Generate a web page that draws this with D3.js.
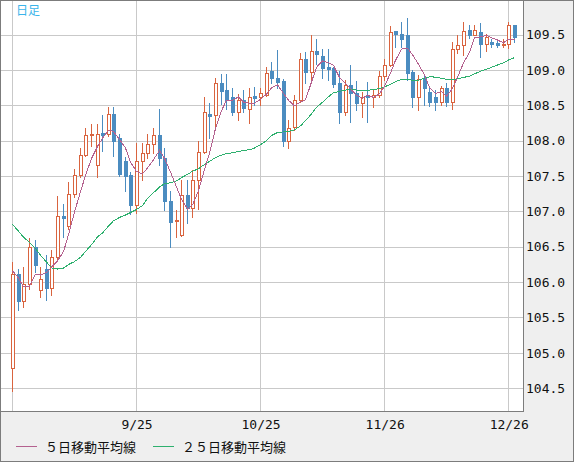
<!DOCTYPE html>
<html>
<head>
<meta charset="utf-8">
<script src="https://cdn.jsdelivr.net/npm/d3@7"></script>
<style>
  html, body { margin: 0; padding: 0; background: #efefef; }
  svg { display: block; }
</style>
</head>
<body>
<svg id="chart" width="574" height="462"></svg>
<script>
// ── Data (USD/JPY daily) ──
const dates = [
  '8/26','8/27','8/28','8/29','8/30',
  '9/2','9/3','9/4','9/5','9/6',
  '9/9','9/10','9/11','9/12','9/13',
  '9/16','9/17','9/18','9/19','9/20',
  '9/23','9/24','9/25','9/26','9/27',
  '9/30','10/1','10/2','10/3','10/4',
  '10/7','10/8','10/9','10/10','10/11',
  '10/14','10/15','10/16','10/17','10/18',
  '10/21','10/22','10/23','10/24','10/25',
  '10/28','10/29','10/30','10/31','11/1',
  '11/4','11/5','11/6','11/7','11/8',
  '11/11','11/12','11/13','11/14','11/15',
  '11/18','11/19','11/20','11/21','11/22',
  '11/25','11/26','11/27','11/28','11/29',
  '12/2','12/3','12/4','12/5','12/6',
  '12/9','12/10','12/11','12/12','12/13',
  '12/16','12/17','12/18','12/19','12/20',
  '12/23','12/24','12/25','12/26','12/27'
];

const opens = [
  104.78,106.11,105.73,105.98,106.50, 105.89,106.18,105.91,106.35,106.94,
  106.79,107.24,107.51,107.80,108.08, 107.66,108.11,108.10,108.37,108.03,
  107.71,107.51,107.09,107.71,107.82, 107.95,108.08,107.75,107.15,106.86,
  106.67,107.23,107.05,107.45,107.84, 108.37,108.36,108.82,108.71,108.61,
  108.40,108.57,108.45,108.63,108.61, 108.65,108.99,108.89,108.84,107.99,
  108.19,108.57,109.16,108.97,109.26, 109.19,109.04,109.02,108.81,108.41,
  108.78,108.67,108.53,108.63,108.61, 108.64,108.91,109.07,109.55,109.51,
  109.50,108.97,108.62,108.88,108.69, 108.62,108.55,108.74,108.55,109.29,
  109.35,109.56,109.50,109.53,109.36, 109.39,109.38,109.35,109.37,109.63
];

const highs = [
  106.29,106.19,106.21,106.62,106.59, 106.22,106.39,106.45,107.22,107.10,
  107.41,107.60,107.89,108.18,108.24, 108.23,108.36,108.48,108.48,108.09,
  107.77,107.55,107.97,107.97,108.09, 108.18,108.45,107.89,107.29,107.02,
  107.45,107.45,107.58,108.00,108.62, 108.53,108.89,108.94,108.94,108.74,
  108.66,108.72,108.74,108.76,108.74, 109.04,109.11,109.28,108.87,108.29,
  108.64,109.24,109.25,109.49,109.44, 109.29,109.29,109.04,108.98,108.85,
  109.07,108.84,108.69,108.83,108.71, 108.98,109.15,109.62,109.55,109.68,
  109.73,109.00,108.93,108.93,108.76, 108.71,108.77,108.81,109.40,109.49,
  109.68,109.63,109.63,109.66,109.51, 109.43,109.41,109.43,109.68,109.63
];

const lows = [
  104.46,105.60,105.65,105.90,106.14, 105.79,105.74,105.82,106.31,106.64,
  106.75,107.20,107.49,107.78,107.93, 107.49,107.86,108.06,107.78,107.50,
  107.29,106.96,106.97,107.44,107.75, 107.82,107.66,107.02,106.50,106.64,
  106.65,106.83,106.92,107.03,107.82, 108.04,108.16,108.52,108.45,108.36,
  108.29,108.40,108.25,108.51,108.51, 108.63,108.81,108.74,107.92,107.89,
  108.15,108.55,108.81,108.85,109.09, 108.89,108.85,108.76,108.25,108.36,
  108.26,108.43,108.33,108.26,108.47, 108.62,108.86,109.06,109.33,109.33,
  108.85,108.47,108.43,108.50,108.49, 108.43,108.51,108.49,108.45,109.24,
  109.21,109.45,109.49,109.18,109.27, 109.32,109.32,109.32,109.31,109.40
];

const closes = [
  106.11,105.73,105.98,106.50,106.24, 106.05,105.91,106.35,106.94,106.91,
  107.24,107.51,107.80,108.08,108.10, 108.10,108.08,108.38,107.99,107.53,
  107.50,107.09,107.71,107.82,107.95, 108.08,107.75,107.15,106.85,106.88,
  107.23,107.05,107.45,107.84,108.40, 108.35,108.82,108.70,108.58,108.41,
  108.57,108.46,108.61,108.60,108.67, 108.96,108.88,108.83,108.00,108.18,
  108.57,109.16,108.97,109.26,109.22, 109.03,109.01,108.80,108.41,108.78,
  108.67,108.53,108.61,108.61,108.64, 108.91,109.07,109.54,109.51,109.44,
  108.96,108.62,108.87,108.75,108.55, 108.55,108.74,108.55,109.29,109.35,
  109.55,109.50,109.57,109.36,109.47, 109.36,109.35,109.37,109.63,109.47
];

// closes before the first visible day, needed for the moving averages
const priorCloses = [
  108.10,108.10,108.30,108.40,108.50,108.30,108.40,107.35,106.59,105.96,
  106.49,106.28,106.05,105.68,105.31,106.73,105.91,106.13,106.37,106.62,
  106.24,106.61,106.45,105.39
];

const yTicks     = [104.5, 105.0, 105.5, 106.0, 106.5, 107.0, 107.5, 108.0, 108.5, 109.0, 109.5];
const gridIdx    = [0, 22, 44, 66, 88];
const labelIdx   = [22, 44, 66, 88];
const maPeriods  = [5, 25];
const maLabels   = ['５日移動平均線', '２５日移動平均線'];
const maColors   = ['#b4618f', '#2eb06e'];
const title      = '日足';

// ── Layout ──
const W = 574, H = 462;
const plot = { left: 1, top: 1, right: 523, bottom: 411 };
const UP = '#d9643f', DOWN = '#4b8cc0', GRID = '#c9c9c9', BORDER = '#7c7c7c';
const monoFont = '"DejaVu Sans Mono", monospace';
const cjkFont  = '"Noto Sans CJK JP", sans-serif';

const svg = d3.select('#chart');

const x = d3.scaleLinear().domain([0, 88]).range([12.5, 508.7]);
const y = d3.scaleLinear().domain([104.5, 109.5]).range([388.2, 34.5]);
const px = v => Math.floor(x(v));
const py = v => Math.round(y(v));

// background + plot area
svg.append('rect').attr('x', 0).attr('y', 0).attr('width', W).attr('height', H).attr('fill', '#efefef');
svg.append('rect')
  .attr('x', plot.left).attr('y', plot.top)
  .attr('width', plot.right - plot.left).attr('height', plot.bottom - plot.top)
  .attr('fill', '#fff');

// gridlines
const grid = svg.append('g').attr('shape-rendering', 'crispEdges').attr('stroke', GRID).attr('stroke-width', 1);
grid.selectAll('.hg').data(yTicks).join('line')
  .attr('x1', plot.left).attr('x2', plot.right)
  .attr('y1', d => py(d) + 0.5).attr('y2', d => py(d) + 0.5);
grid.selectAll('.vg').data(gridIdx).join('line')
  .attr('x1', d => px(d) + 0.5).attr('x2', d => px(d) + 0.5)
  .attr('y1', plot.top).attr('y2', plot.bottom);

// ── Candles ──
const idx = d3.range(closes.length);
const candles = svg.append('g').attr('shape-rendering', 'crispEdges');

candles.selectAll('.wick').data(idx).join('line')
  .attr('x1', i => px(i) + 0.5).attr('x2', i => px(i) + 0.5)
  .attr('y1', i => py(highs[i])).attr('y2', i => py(lows[i]) + 1)
  .attr('stroke', i => closes[i] >= opens[i] ? UP : DOWN);

// bullish: hollow
candles.selectAll('.up').data(idx.filter(i => closes[i] >= opens[i])).join('rect')
  .attr('x', i => px(i) - 0.5)
  .attr('y', i => py(closes[i]) + 0.5)
  .attr('width', 3)
  .attr('height', i => Math.max(1, py(opens[i]) - py(closes[i])))
  .attr('fill', '#fff').attr('stroke', UP);

// bearish: filled
candles.selectAll('.down').data(idx.filter(i => closes[i] < opens[i])).join('rect')
  .attr('x', i => px(i) - 1)
  .attr('y', i => py(opens[i]))
  .attr('width', 4)
  .attr('height', i => Math.max(2, py(closes[i]) - py(opens[i]) + 1))
  .attr('fill', DOWN);

// ── Moving averages ──
function movingAvg(n) {
  const all = priorCloses.concat(closes);
  const off = priorCloses.length;
  return closes.map((c, i) => d3.mean(all.slice(off + i - n + 1, off + i + 1)));
}

const line = d3.line().x((d, i) => px(i) + 0.5).y(d => y(d));
[1, 0].forEach(k => {
  svg.append('path')
    .datum(movingAvg(maPeriods[k]))
    .attr('fill', 'none')
    .attr('stroke', maColors[k])
    .attr('stroke-width', 1)
    .attr('shape-rendering', 'crispEdges')
    .attr('d', line);
});

// ── Frame borders ──
const frame = svg.append('g').attr('shape-rendering', 'crispEdges').attr('stroke', BORDER).attr('fill', 'none');
frame.append('line').attr('x1', plot.right + 0.5).attr('x2', plot.right + 0.5).attr('y1', 0).attr('y2', plot.bottom + 1);
frame.append('line').attr('x1', 0).attr('x2', plot.right + 1).attr('y1', plot.bottom + 0.5).attr('y2', plot.bottom + 0.5);
frame.append('rect').attr('x', 0.5).attr('y', 0.5).attr('width', W - 1).attr('height', H - 1);

// ── Axes ──
const yAxis = svg.append('g')
  .attr('transform', `translate(${plot.right},0)`)
  .call(d3.axisRight(y).tickValues(yTicks).tickSize(0).tickPadding(3).tickFormat(d3.format('.1f')));
yAxis.select('.domain').remove();
yAxis.selectAll('text').attr('font-family', monoFont).attr('font-size', 13).attr('fill', '#111');

const xAxis = svg.append('g')
  .attr('transform', `translate(0,${plot.bottom + 1})`)
  .call(d3.axisBottom(x).tickValues(labelIdx).tickSize(0).tickPadding(8).tickFormat(i => dates[i]));
xAxis.select('.domain').remove();
xAxis.selectAll('text').attr('font-family', monoFont).attr('font-size', 13).attr('fill', '#111');

// ── Title ──
svg.append('text')
  .attr('x', 16).attr('y', 15)
  .attr('font-family', cjkFont).attr('font-size', 12)
  .attr('fill', '#3ab4ea')
  .text(title);

// ── Legend ──
const legendX = [16, 153];
const legend = svg.append('g');
maLabels.forEach((lab, k) => {
  legend.append('line')
    .attr('x1', legendX[k]).attr('x2', legendX[k] + 21)
    .attr('y1', 446.5).attr('y2', 446.5)
    .attr('stroke', maColors[k]).attr('shape-rendering', 'crispEdges');
  legend.append('text')
    .attr('x', legendX[k] + 29).attr('y', 452)
    .attr('font-family', cjkFont).attr('font-size', 13)
    .attr('fill', '#111')
    .text(lab);
});
</script>
</body>
</html>
